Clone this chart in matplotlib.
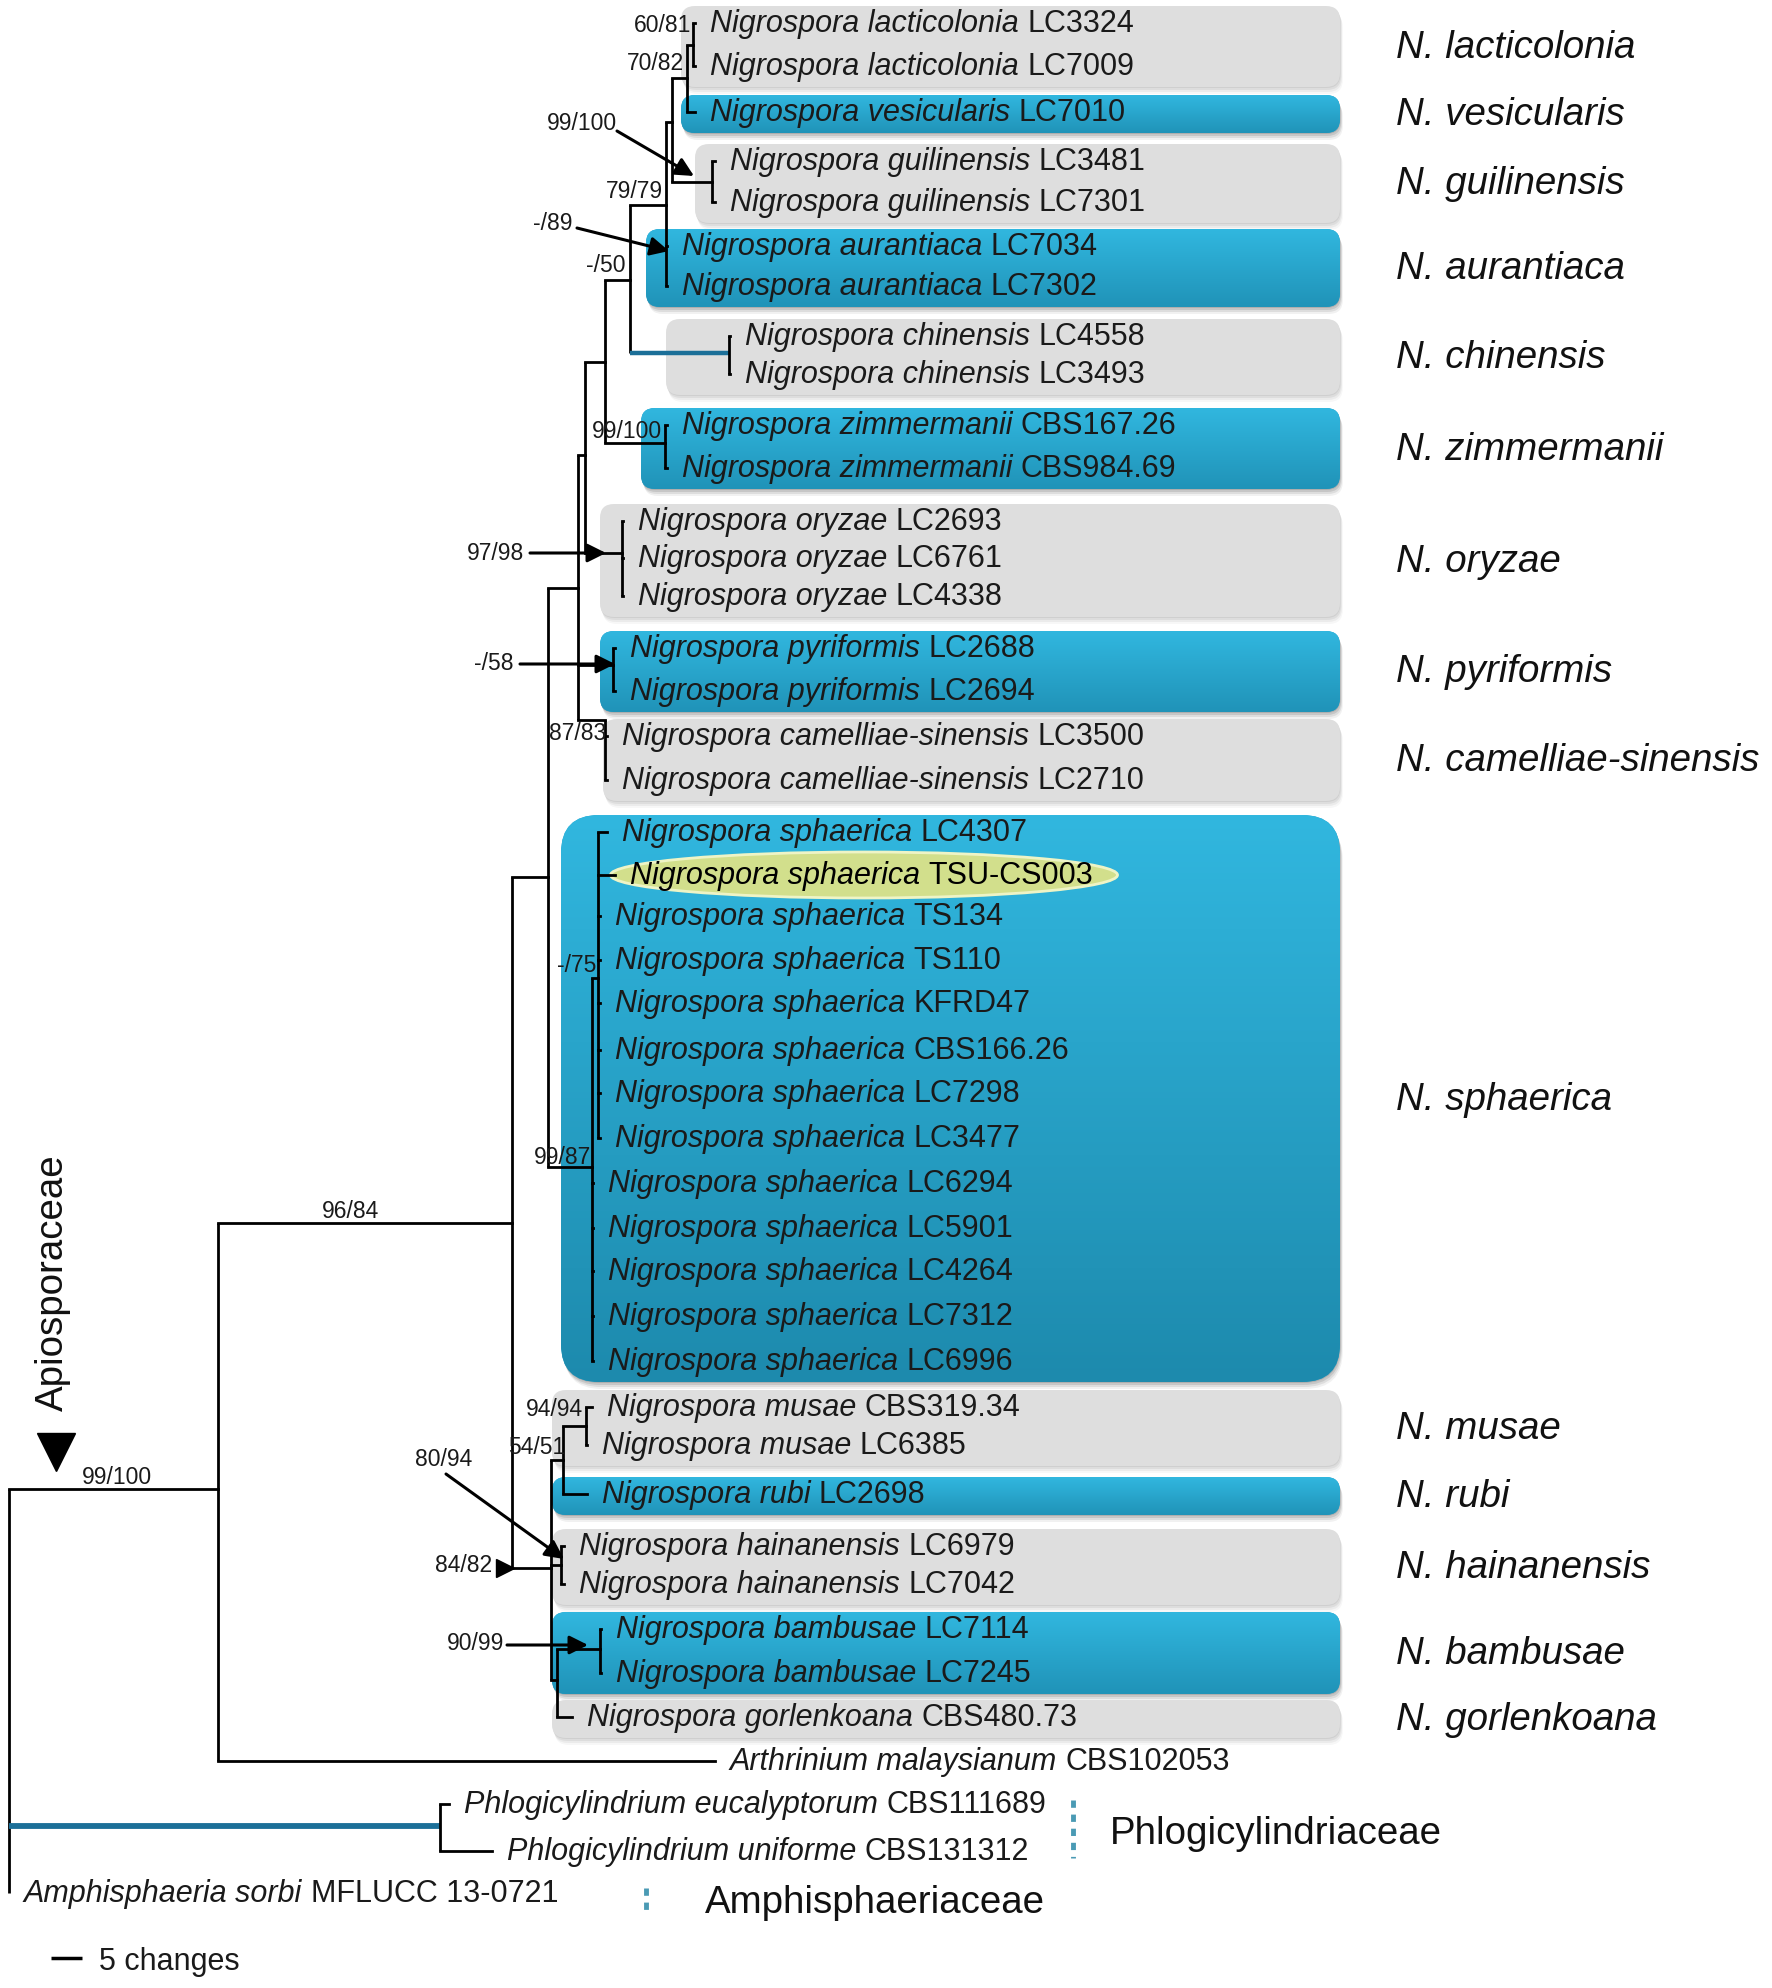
import matplotlib
matplotlib.use('Agg')
import matplotlib.pyplot as plt
import numpy as np
from matplotlib.patches import FancyBboxPatch, Ellipse
from matplotlib.colors import to_rgb

FONT = 'Liberation Sans'
plt.rcParams['font.family'] = [FONT, 'DejaVu Sans']

# ---------------- data ----------------
leaf_taxon = [
    "Nigrospora lacticolonia", "Nigrospora lacticolonia", "Nigrospora vesicularis",
    "Nigrospora guilinensis", "Nigrospora guilinensis",
    "Nigrospora aurantiaca", "Nigrospora aurantiaca",
    "Nigrospora chinensis", "Nigrospora chinensis",
    "Nigrospora zimmermanii", "Nigrospora zimmermanii",
    "Nigrospora oryzae", "Nigrospora oryzae", "Nigrospora oryzae",
    "Nigrospora pyriformis", "Nigrospora pyriformis",
    "Nigrospora camelliae-sinensis", "Nigrospora camelliae-sinensis",
    "Nigrospora sphaerica", "Nigrospora sphaerica", "Nigrospora sphaerica",
    "Nigrospora sphaerica", "Nigrospora sphaerica", "Nigrospora sphaerica",
    "Nigrospora sphaerica", "Nigrospora sphaerica", "Nigrospora sphaerica",
    "Nigrospora sphaerica", "Nigrospora sphaerica", "Nigrospora sphaerica",
    "Nigrospora sphaerica",
    "Nigrospora musae", "Nigrospora musae", "Nigrospora rubi",
    "Nigrospora hainanensis", "Nigrospora hainanensis",
    "Nigrospora bambusae", "Nigrospora bambusae",
    "Nigrospora gorlenkoana", "Arthrinium malaysianum",
    "Phlogicylindrium eucalyptorum", "Phlogicylindrium uniforme",
    "Amphisphaeria sorbi",
]
leaf_strain = [
    "LC3324", "LC7009", "LC7010", "LC3481", "LC7301", "LC7034", "LC7302",
    "LC4558", "LC3493", "CBS167.26", "CBS984.69", "LC2693", "LC6761", "LC4338",
    "LC2688", "LC2694", "LC3500", "LC2710",
    "LC4307", "TSU-CS003", "TS134", "TS110", "KFRD47", "CBS166.26", "LC7298",
    "LC3477", "LC6294", "LC5901", "LC4264", "LC7312", "LC6996",
    "CBS319.34", "LC6385", "LC2698", "LC6979", "LC7042", "LC7114", "LC7245",
    "CBS480.73", "CBS102053", "CBS111689", "CBS131312", "MFLUCC 13-0721",
]
# row position of each tip (px from top)
leaf_y = [23, 66, 112, 161, 202, 246, 286, 336, 374, 425, 468, 521, 558, 596,
          648, 691, 736, 780, 832, 875, 916, 960, 1003, 1050, 1093, 1138, 1183,
          1228, 1271, 1316, 1361, 1407, 1445, 1494, 1546, 1584, 1629, 1673,
          1717, 1761, 1804, 1851, 1893]
# cumulative branch length at each tip (px from left)
leaf_x = [695, 695, 695, 715, 715, 667, 667, 730, 730, 667, 667, 623, 623, 623,
          615, 615, 607, 607, 607, 615, 600, 600, 600, 600, 600, 600, 593,
          593, 593, 593, 593, 592, 587, 587, 564, 564, 601, 601,
          572, 715, 449, 492, 9]

# internal nodes: name -> (depth x, connecting y or None = centred, children)
nodes = {
    "root":   (9,   None, ["apio", "phlogi", 42]),
    "apio":   (218, 1489, ["nig", 39]),
    "phlogi": (440, 1826, [40, 41]),
    "nig":    (512, 1223, ["core", "low"]),
    "core":   (548, 877,  ["n578", "sph"]),
    "n578":   (578, 588,  ["n585", "pyr", "cam"]),
    "n585":   (585, 455,  ["n2", "ory"]),
    "n2":     (605, 362,  ["n3", "zimm"]),
    "n3":     (630, 280,  ["aur", "chin"]),
    "aur":    (666, 205,  ["lvg", 5, 6]),
    "lvg":    (672, 122,  ["lv", "guil"]),
    "lv":     (687, 78,   ["lac", 2]),
    "lac":    (693, None, [0, 1]),
    "guil":   (712, None, [3, 4]),
    "chin":   (729, 353,  [7, 8]),
    "zimm":   (665, 443,  [9, 10]),
    "ory":    (622, 553,  [11, 12, 13]),
    "pyr":    (613, 665,  [14, 15]),
    "cam":    (605, 720,  [16, 17]),
    "sph":    (592, 1167, ["sphin", 26, 27, 28, 29, 30]),
    "sphin":  (598, 978,  [18, 19, 20, 21, 22, 23, 24, 25]),
    "low":    (551, 1568, ["mr", "hain", "bg"]),
    "mr":     (563, 1460, ["musae", 33]),
    "musae":  (586, None, [31, 32]),
    "hain":   (561, None, [34, 35]),
    "bg":     (557, 1680, ["bam", 38]),
    "bam":    (600, 1649, [36, 37]),
}
blue_branches = {("n3", "chin"): 3.2, ("root", "phlogi"): 4.2}

# species groups: label, first tip, last tip, box kind, box left
groups = [
    ("N. lacticolonia", 0, 1, "gray", 681),
    ("N. vesicularis", 2, 2, "blue", 681),
    ("N. guilinensis", 3, 4, "gray", 695),
    ("N. aurantiaca", 5, 6, "blue", 646),
    ("N. chinensis", 7, 8, "gray", 666),
    ("N. zimmermanii", 9, 10, "blue", 641),
    ("N. oryzae", 11, 13, "gray", 600),
    ("N. pyriformis", 14, 15, "blue", 600),
    ("N. camelliae-sinensis", 16, 17, "gray", 603),
    ("N. sphaerica", 18, 30, "blue", 561),
    ("N. musae", 31, 32, "gray", 552),
    ("N. rubi", 33, 33, "blue", 552),
    ("N. hainanensis", 34, 35, "gray", 552),
    ("N. bambusae", 36, 37, "blue", 552),
    ("N. gorlenkoana", 38, 38, "gray", 552),
]

# support values written beside nodes
support_text = ["60/81", "70/82", "79/79", "-/50", "99/100", "87/83", "-/75",
                "99/87", "96/84", "99/100", "94/94", "54/51"]
support_pos = [(691, 25, "right"), (684, 64, "right"), (663, 192, "right"),
               (626, 266, "right"), (662, 432, "right"), (606, 733, "right"),
               (596, 966, "right"), (591, 1158, "right"), (351, 1212, "center"),
               (117, 1478, "center"), (583, 1410, "right"), (565, 1447, "right")]
# support values with arrows
arrow_text = ["99/100", "-/89", "97/98", "-/58", "80/94", "90/99"]
arrow_pos = [((582, 123), (617, 131), (694, 176)),
             ((553, 224), (577, 228), (669, 251)),
             ((496, 553), (530, 553), (606, 553)),
             ((494, 664), (520, 664), (615, 664)),
             ((444, 1459), (446, 1474), (564, 1559)),
             ((476, 1644), (507, 1645), (588, 1645))]

# ---------------- figure ----------------
fig = plt.figure(figsize=(17.72, 19.88), dpi=100)
ax = fig.add_axes([0, 0, 1, 1])
ax.set_xlim(0, 1772)
ax.set_ylim(1988, 0)
ax.axis('off')

BOX_R = 1340
BLUE_TOP = np.array(to_rgb('#31b7df'))
BLUE_BOT = np.array(to_rgb('#1d8aad'))
BLUE_BOT_SMALL = np.array(to_rgb('#2093b8'))

for name, i0, i1, kind, bx0 in groups:
    y0 = leaf_y[i0] - 17
    y1 = leaf_y[i1] + 21
    h = y1 - y0
    r = 38 if h > 200 else 14
    # soft shadow
    for k, a in enumerate([0.08, 0.12, 0.16, 0.2]):
        off = 7 - 2 * k
        sh = FancyBboxPatch((bx0 + off * 0.4, y0 + off), BOX_R - bx0, h,
                            boxstyle=f"round,pad=0,rounding_size={r}",
                            fc='#505050' if kind == 'blue' else '#9a9a9a',
                            ec='none', alpha=a, zorder=1)
        ax.add_patch(sh)
    box = FancyBboxPatch((bx0, y0), BOX_R - bx0, h,
                         boxstyle=f"round,pad=0,rounding_size={r}",
                         fc='#dedede' if kind == 'gray' else '#2aa6cf',
                         ec='none', zorder=2)
    ax.add_patch(box)
    if kind == 'blue':
        t = np.linspace(0, 1, 200)[:, None]
        bot = BLUE_BOT if h > 200 else BLUE_BOT_SMALL
        grad = (BLUE_TOP[None, :] * (1 - t) + bot[None, :] * t)[:, None, :]
        im = ax.imshow(grad, extent=[bx0, BOX_R, y1, y0], origin='upper',
                       aspect='auto', zorder=2.1, interpolation='bilinear')
        im.set_clip_path(box)
    ax.text(1396, (y0 + y1) / 2 + 1, name, fontsize=27.7, style='italic',
            va='center', ha='left', color='#111111', zorder=5)

# highlighted new isolate
ax.add_patch(Ellipse((864, 875), 507, 46, fc='#d2df8c', ec='#eef4c6', lw=2,
                     zorder=2.5))

# ---------------- tree ----------------
def pos(c):
    if isinstance(c, int):
        return leaf_x[c], leaf_y[c]
    x, y, ch = nodes[c]
    if y is None:
        ys = [pos(k)[1] for k in ch]
        y = (min(ys) + max(ys)) / 2
    return x, y

LW = 2.0
for name, (x, y, ch) in nodes.items():
    ys = [pos(c)[1] for c in ch]
    own = pos(name)[1]
    lo = min(ys + [own]) if nodes[name][1] is not None else min(ys)
    hi = max(ys + [own]) if nodes[name][1] is not None else max(ys)
    ax.plot([x, x], [lo, hi], color='black', lw=LW, solid_capstyle='butt',
            zorder=3)
    for c in ch:
        cx, cy = pos(c)
        key = (name, c)
        if key in blue_branches:
            ax.plot([x, cx], [cy, cy], color='#1b6f98', lw=blue_branches[key],
                    solid_capstyle='butt', zorder=3)
        elif cx > x:
            ax.plot([x, cx], [cy, cy], color='black', lw=LW,
                    solid_capstyle='projecting', zorder=3)

# tip labels
TIP_FS = 22
for i in range(len(leaf_taxon)):
    x = leaf_x[i] + 15
    yb = leaf_y[i] + 9
    col = 'black' if leaf_strain[i] == "TSU-CS003" else '#1a1a1a'
    t1 = ax.text(x, yb, leaf_taxon[i], fontsize=TIP_FS, style='italic',
                 va='baseline', ha='left', color=col, zorder=5)
    ax.annotate(leaf_strain[i], xy=(1, yb), xycoords=(t1, 'data'),
                xytext=(6, 0), textcoords='offset points', fontsize=TIP_FS,
                va='baseline', ha='left', color=col, zorder=5)

# support values
for s, (x, y, ha) in zip(support_text, support_pos):
    ax.text(x, y, s, fontsize=16.5, ha=ha, va='center', color='#1a1a1a',
            zorder=6)
for s, (txy, a0, a1) in zip(arrow_text, arrow_pos):
    ax.text(txy[0], txy[1], s, fontsize=16.5, ha='center', va='center',
            color='#1a1a1a', zorder=6)
    ax.annotate('', xy=a1, xytext=a0,
                arrowprops=dict(arrowstyle='-|>', color='black', lw=2.2,
                                mutation_scale=28, shrinkA=0, shrinkB=0),
                zorder=6)
ax.text(464, 1566, "84/82", fontsize=16.5, ha='center', va='center',
        color='#1a1a1a', zorder=6)
ax.plot([505], [1568], marker='>', ms=13, color='black', zorder=6)

# family labels
ax.text(1110, 1834, "Phlogicylindriaceae", fontsize=27.7, va='center',
        ha='left', color='#111111')
ax.text(705, 1903, "Amphisphaeriaceae", fontsize=27.7, va='center',
        ha='left', color='#111111')
ax.text(53, 1283, "Apiosporaceae", fontsize=27.7, rotation=90, va='center',
        ha='center', color='#111111')
ax.plot([56], [1452], marker='v', ms=27, color='black')
ax.plot([1073, 1073], [1800, 1858], color='#4a9ab4', lw=3.5,
        dashes=[1.5, 1.4], solid_capstyle='butt')
ax.plot([646, 646], [1888, 1910], color='#4a9ab4', lw=3.5,
        dashes=[1.5, 1.4], solid_capstyle='butt')

# scale bar
ax.plot([51, 82], [1958, 1958], color='black', lw=2.5, solid_capstyle='butt')
ax.text(99, 1962, "5 changes", fontsize=22, va='center', ha='left',
        color='#1a1a1a')

fig.savefig('out.png', dpi=100, facecolor='white')
